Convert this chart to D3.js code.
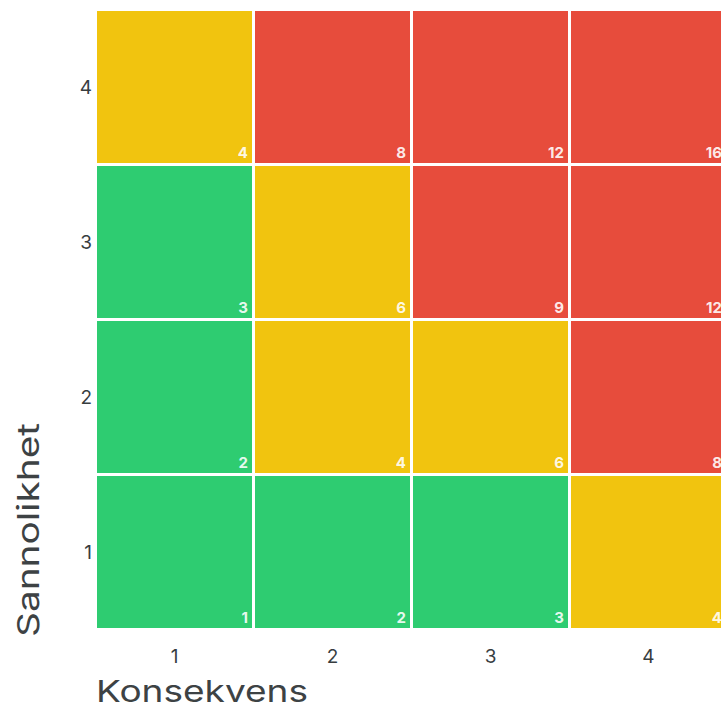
<!DOCTYPE html>
<html>
<head>
<meta charset="utf-8">
<script src="https://cdn.jsdelivr.net/npm/d3@7"></script>
<style>
  html, body { margin: 0; padding: 0; background: #fff; }
</style>
</head>
<body>
<svg id="matrix" width="721" height="708"></svg>
<script>
const fontFamily = "'Inter', 'Noto Sans', 'DejaVu Sans', sans-serif";

// Risk matrix: consequence (x) vs likelihood (y)
const consequences = [1, 2, 3, 4];
const likelihoods = [1, 2, 3, 4];
// score per row (likelihood 1..4), per column (consequence 1..4)
const scores = [
  [1, 2, 3, 4],
  [2, 4, 6, 8],
  [3, 6, 9, 12],
  [4, 8, 12, 16]
];
// risk level per cell
const levels = [
  ["low", "low", "low", "medium"],
  ["low", "medium", "medium", "high"],
  ["low", "medium", "high", "high"],
  ["medium", "high", "high", "high"]
];
const levelColors = { low: "#2ecc71", medium: "#f1c40f", high: "#e74c3c" };

const svg = d3.select("#matrix");
const gap = 1.5;

const x = d3.scaleBand().domain(consequences).range([95.5, 727.5]).padding(0);
const y = d3.scaleBand().domain(likelihoods.slice().reverse()).range([9.5, 629.5]).padding(0);

const cells = [];
likelihoods.forEach((l, i) => {
  consequences.forEach((c, j) => {
    cells.push({ c, l, score: scores[i][j], level: levels[i][j] });
  });
});

svg.selectAll("rect.cell")
  .data(cells)
  .enter()
  .append("rect")
  .attr("class", "cell")
  .attr("x", d => x(d.c) + gap)
  .attr("y", d => y(d.l) + gap)
  .attr("width", x.bandwidth() - gap * 2)
  .attr("height", y.bandwidth() - gap * 2)
  .attr("fill", d => levelColors[d.level]);

// score in the bottom-right corner of each cell
svg.selectAll("text.score")
  .data(cells)
  .enter()
  .append("text")
  .attr("class", "score")
  .attr("x", d => x(d.c) + x.bandwidth() - gap - 4)
  .attr("y", d => y(d.l) + y.bandwidth() - gap - 5)
  .attr("text-anchor", "end")
  .attr("font-family", fontFamily)
  .attr("font-size", "15px")
  .attr("font-weight", "700")
  .attr("fill", "#fff")
  .attr("fill-opacity", 0.9)
  .text(d => d.score);

// x axis tick labels
svg.append("g")
  .selectAll("text")
  .data(consequences)
  .enter()
  .append("text")
  .attr("x", d => x(d) + x.bandwidth() / 2)
  .attr("y", 663)
  .attr("text-anchor", "middle")
  .attr("font-family", fontFamily)
  .attr("font-size", "19px")
  .attr("fill", "#373d3f")
  .text(d => d);

// y axis tick labels
svg.append("g")
  .selectAll("text")
  .data(likelihoods)
  .enter()
  .append("text")
  .attr("x", 92)
  .attr("y", d => y(d) + y.bandwidth() / 2)
  .attr("dy", "0.36em")
  .attr("text-anchor", "end")
  .attr("font-family", fontFamily)
  .attr("font-size", "19px")
  .attr("fill", "#373d3f")
  .text(d => d);

// axis titles
svg.append("text")
  .attr("x", 96)
  .attr("y", 702)
  .attr("font-family", fontFamily)
  .attr("font-size", "30px")
  .attr("fill", "#3d4244")
  .attr("textLength", 212)
  .attr("lengthAdjust", "spacingAndGlyphs")
  .text("Konsekvens");

svg.append("text")
  .attr("transform", "translate(39, 637) rotate(-90)")
  .attr("font-family", fontFamily)
  .attr("font-size", "30px")
  .attr("fill", "#3d4244")
  .attr("textLength", 214)
  .attr("lengthAdjust", "spacingAndGlyphs")
  .text("Sannolikhet");
</script>
</body>
</html>
